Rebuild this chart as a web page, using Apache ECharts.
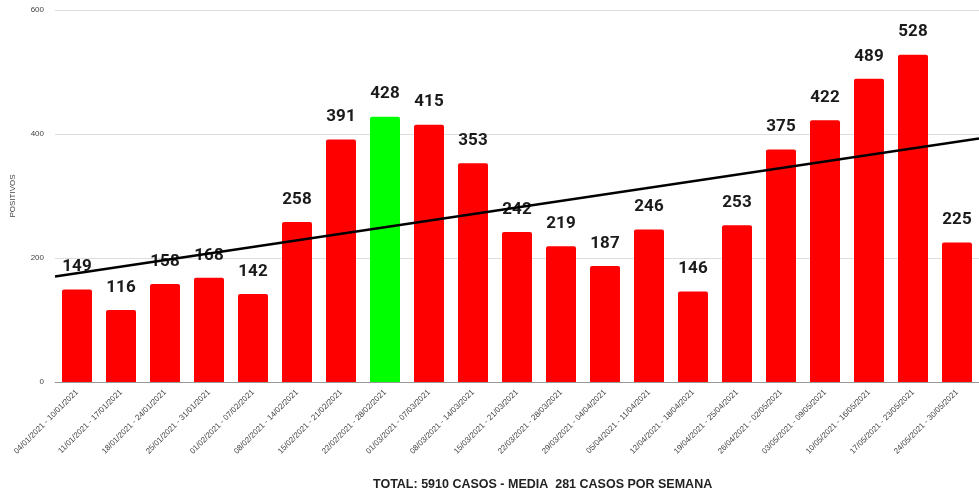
<!DOCTYPE html>
<html><head><meta charset="utf-8">
<script src="https://cdn.jsdelivr.net/npm/echarts@6/dist/echarts.min.js"></script>
<style>html,body{margin:0;padding:0;background:#fff}#c{width:979px;height:492px}</style>
</head><body><div id="c"></div>
<script>
const categories = ["04/01/2021 - 10/01/2021","11/01/2021 - 17/01/2021","18/01/2021 - 24/01/2021","25/01/2021 - 31/01/2021","01/02/2021 - 07/02/2021","08/02/2021 - 14/02/2021","15/02/2021 - 21/02/2021","22/02/2021 - 28/02/2021","01/03/2021 - 07/03/2021","08/03/2021 - 14/03/2021","15/03/2021 - 21/03/2021","22/03/2021 - 28/03/2021","29/03/2021 - 04/04/2021","05/04/2021 - 11/04/2021","12/04/2021 - 18/04/2021","19/04/2021 - 25/04/2021","26/04/2021 - 02/05/2021","03/05/2021 - 09/05/2021","10/05/2021 - 16/05/2021","17/05/2021 - 23/05/2021","24/05/2021 - 30/05/2021"];
const positivos = [149,116,158,168,142,258,391,428,415,353,242,219,187,246,146,253,375,422,489,528,225];
const highlightIndex = 7;
const yTicks = [0,200,400,600];

// least-squares trend line of the data (as the original chart's trendline)
const n = positivos.length;
const mx = (n - 1) / 2;
const my = positivos.reduce((a,b)=>a+b,0)/n;
let sxy = 0, sxx = 0;
positivos.forEach((v,i)=>{ sxy += (i-mx)*(v-my); sxx += (i-mx)*(i-mx); });
const slope = sxy/sxx, icpt = my - slope*mx;
const trend = [[-0.5, icpt + slope*-0.5],[n-0.5, icpt + slope*(n-0.5)]];

const chart = echarts.init(document.getElementById('c'));
chart.setOption({
  animation:false,
  title:{text:"TOTAL: 5910 CASOS - MEDIA  281 CASOS POR SEMANA", left:368, top:473,
    textStyle:{fontFamily:"Liberation Sans, Arial", fontWeight:'bold', fontSize:12.5, color:'#222'}},
  grid:{left:55, right:0, top:10, bottom:110},
  xAxis:[{type:'category', data:categories,
    axisLine:{lineStyle:{color:'#999'}}, axisTick:{show:false},
    axisLabel:{rotate:45, interval:0, fontSize:8, color:'#444', fontFamily:"Liberation Sans, Arial", margin:9}},
    {type:'value', min:-0.5, max:n-0.5, show:false}],
  yAxis:{type:'value', min:yTicks[0], max:yTicks[yTicks.length-1], interval:200,
    name:'POSITIVOS', nameLocation:'middle', nameGap:38, nameRotate:90,
    nameTextStyle:{fontSize:8, color:'#444', fontFamily:"Liberation Sans, Arial"},
    axisLabel:{fontSize:8, color:'#444', fontFamily:"Liberation Sans, Arial", margin:11},
    splitLine:{lineStyle:{color:'#ddd'}}, axisLine:{show:false}, axisTick:{show:false}},
  series:[
    {type:'bar', data:positivos.map((v,i)=>({value:v, itemStyle:{color: i===highlightIndex ? '#00ff00' : '#ff0000'}})),
     barWidth:30, itemStyle:{borderRadius:[2,2,0,0]},
     label:{show:true, position:'top', distance:14, fontSize:17, fontWeight:'bold', color:'#1a1a1a', fontFamily:'Roboto'}},
    {type:'line', xAxisIndex:1, data:trend, symbol:'none', lineStyle:{color:'#000', width:2.5}, z:5}
  ]
});
</script></body></html>
